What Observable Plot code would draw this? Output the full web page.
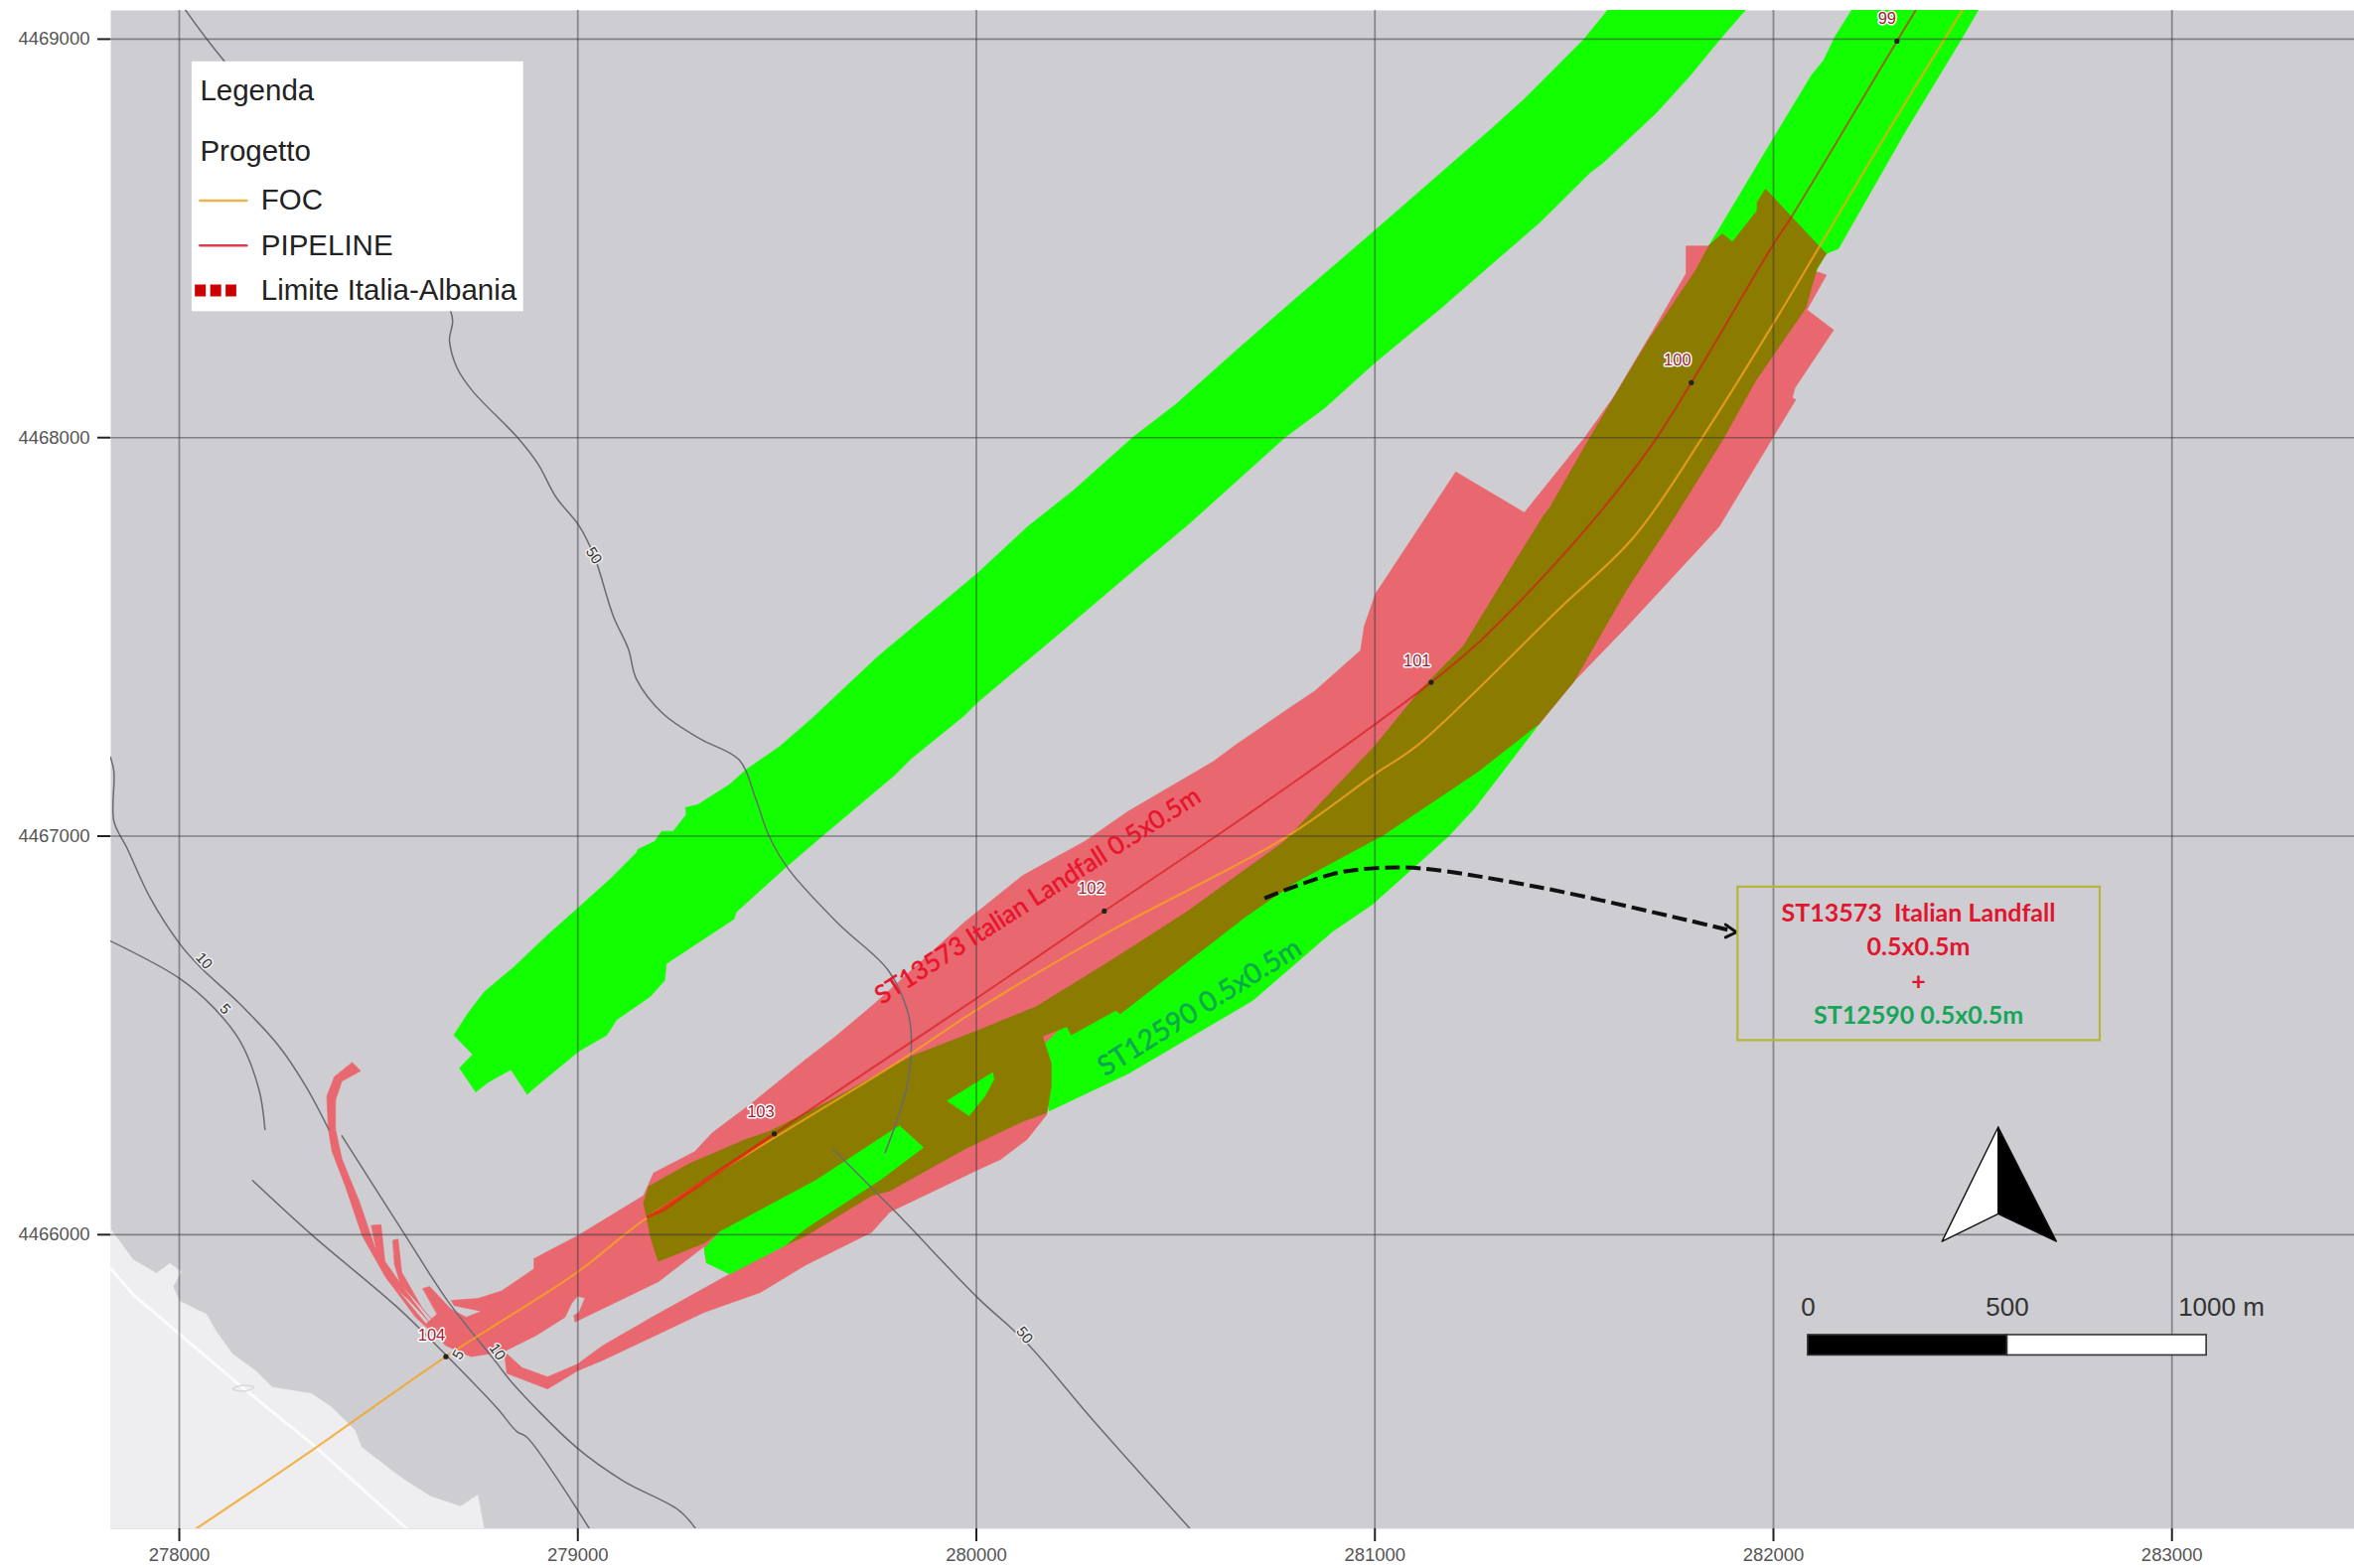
<!DOCTYPE html>
<html>
<head>
<meta charset="utf-8">
<title>ST13573 Italian Landfall</title>
<script src="https://cdn.jsdelivr.net/npm/d3@7"></script>
<script src="https://cdn.jsdelivr.net/npm/@observablehq/plot@0.6"></script>
<style>
html,body{margin:0;padding:0;background:#fff;overflow:hidden}
svg{display:block}
</style>
</head>
<body>
<div id="chart"></div>
<script>
// All coordinates are map metres (easting, northing).
const xTicks = [278000, 279000, 280000, 281000, 282000, 283000];
const yTicks = [4466000, 4467000, 4468000, 4469000];
const xExtent = [277828, 283458];
const yExtent = [4465262, 4469072];

const landArea = [[277827,4466015],[277884,4465937],[277943,4465903],[277976,4465928],[278005,4465907],[277984,4465870],[278001,4465833],[278068,4465800],[278092,4465758],[278133,4465701],[278192,4465658],[278233,4465617],[278332,4465601],[278382,4465567],[278441,4465509],[278457,4465467],[278532,4465409],[278566,4465384],[278631,4465343],[278706,4465318],[278749,4465347],[278765,4465259],[277827,4465259]];
const roadLine = [[277827,4465916],[277884,4465850],[278001,4465750],[278158,4465617],[278332,4465476],[278574,4465259]];
const landMark = [[278134,4465613],[278160,4465607],[278188,4465617],[278160,4465622]];

const corridorNorth = [[278689,4466501],[278724,4466555],[278765,4466609],[278840,4466672],[278923,4466751],[279002,4466821],[279081,4466892],[279147,4466958],[279151,4466967],[279193,4466987],[279210,4467012],[279239,4467012],[279272,4467054],[279270,4467072],[279301,4467079],[279380,4467129],[279421,4467166],[279505,4467224],[279587,4467295],[279671,4467374],[279754,4467452],[279795,4467486],[280003,4467660],[280128,4467776],[280244,4467868],[280393,4468001],[280501,4468084],[280659,4468225],[280792,4468341],[281000,4468520],[281290,4468773],[281373,4468848],[281523,4468998],[281590,4469080],[281936,4469080],[281868,4469002],[281789,4468906],[281706,4468815],[281573,4468690],[281540,4468665],[281415,4468541],[281290,4468433],[281166,4468325],[281000,4468188],[280875,4468075],[280775,4468001],[280535,4467785],[280377,4467652],[280211,4467511],[280003,4467336],[279970,4467303],[279837,4467195],[279795,4467153],[279613,4467000],[279521,4466921],[279397,4466809],[279392,4466792],[279222,4466680],[279218,4466638],[279181,4466597],[279097,4466539],[279073,4466501],[279002,4466460],[278886,4466364],[278873,4466352],[278832,4466414],[278794,4466393],[278773,4466381],[278744,4466358],[278703,4466418],[278736,4466452]];
const corridorMain = [[282197,4469074],[282155,4469007],[282126,4468947],[282096,4468910],[281998,4468748],[281864,4468524],[281839,4468483],[281696,4468193],[281470,4467816],[281169,4467439],[280755,4466969],[280189,4466535],[280166,4466498],[280182,4466310],[280383,4466405],[280694,4466588],[280894,4466761],[280994,4466829],[281184,4466999],[281250,4467070],[281412,4467281],[282133,4468462],[282163,4468474],[282329,4468765],[282470,4468997],[282517,4469078]];
const corridorPatch = [[279807,4466273],[279867,4466219],[279762,4466140],[279572,4466016],[279522,4465974],[279381,4465901],[279323,4465929],[279317,4465965],[279356,4466007],[279597,4466136]];
const corridorIsland = [[279927,4466336],[280041,4466407],[280044,4466389],[280021,4466347],[279982,4466299]];

const landfallMain = [[278683,4465835],[278750,4465840],[278809,4465859],[278890,4465914],[278890,4465940],[278999,4465997],[279165,4466098],[279190,4466155],[279293,4466208],[279338,4466256],[279438,4466331],[279571,4466439],[279646,4466497],[279745,4466580],[279970,4466784],[280116,4466901],[280272,4466987],[280382,4467063],[280594,4467187],[280651,4467229],[280792,4467326],[280849,4467364],[280964,4467466],[280973,4467526],[281002,4467609],[281022,4467639],[281203,4467914],[281375,4467812],[281527,4468001],[281598,4468100],[281697,4468267],[281781,4468412],[281781,4468481],[281836,4468481],[282113,4468415],[282133,4468408],[282084,4468321],[282151,4468270],[282054,4468125],[282047,4468100],[282056,4468095],[281999,4468001],[281864,4467777],[281794,4467701],[281632,4467526],[281498,4467387],[281412,4467281],[281169,4467138],[280830,4466931],[280566,4466761],[280265,4466573],[280152,4466460],[280177,4466302],[280127,4466239],[280061,4466189],[280004,4466163],[279783,4466057],[279737,4466006],[279572,4465924],[279323,4465929],[279317,4465970],[279202,4465882],[278993,4465781],[278990,4465797],[279003,4465805],[279018,4465841],[278999,4465846],[278984,4465827],[278968,4465793],[278897,4465748],[278815,4465707],[278732,4465694],[278668,4465722],[278619,4465776],[278668,4465820],[278720,4465793],[278758,4465808],[278690,4465822]];
const landfallTail = [[279549,4466027],[279572,4465924],[279458,4465855],[279317,4465805],[279190,4465745],[279063,4465685],[278999,4465658],[278924,4465613],[278822,4465652],[278815,4465707],[278860,4465666],[278924,4465643],[278999,4465675],[279063,4465722],[279190,4465795],[279381,4465901]];
const strandOne = [[278434,4466432],[278455,4466411],[278408,4466385],[278392,4466338],[278392,4466264],[278408,4466190],[278453,4466080],[278490,4465970],[278542,4465869],[278619,4465776],[278645,4465744],[278592,4465794],[278516,4465896],[278459,4465997],[278415,4466126],[278383,4466209],[278374,4466264],[278370,4466347],[278389,4466396]];
const strandTwo = [[278482,4466023],[278506,4466025],[278516,4465933],[278568,4465859],[278626,4465782],[278577,4465835],[278524,4465884],[278494,4465963]];
const strandThree = [[278536,4465986],[278549,4465989],[278558,4465906],[278611,4465813],[278645,4465775],[278592,4465835],[278555,4465876],[278540,4465925]];
const strandFour = [[278611,4465865],[278628,4465870],[278682,4465813],[278728,4465763],[278653,4465790]];

const overlapArea = [[279165,4466080],[279178,4466121],[279279,4466178],[279419,4466238],[279483,4466260],[279636,4466338],[279762,4466407],[279838,4466448],[280005,4466513],[280150,4466572],[280338,4466688],[280528,4466810],[280773,4466987],[281002,4467229],[281116,4467369],[281222,4467477],[281288,4467585],[281365,4467711],[281421,4467801],[281440,4467826],[281540,4468001],[281614,4468125],[281685,4468242],[281805,4468420],[281839,4468483],[281872,4468512],[281897,4468491],[281959,4468570],[281959,4468590],[281980,4468624],[282113,4468482],[282133,4468462],[282109,4468424],[282081,4468325],[281955,4468142],[281872,4467993],[281747,4467793],[281632,4467619],[281498,4467386],[281412,4467282],[281259,4467162],[281022,4467003],[280792,4466879],[280672,4466795],[280361,4466554],[280350,4466563],[280238,4466501],[280227,4466522],[280166,4466498],[280188,4466430],[280188,4466372],[280177,4466306],[280116,4466284],[279971,4466215],[279783,4466110],[279737,4466098],[279572,4465997],[279522,4465974],[279356,4466007],[279317,4465979],[279202,4465933],[279184,4465988]];

const pipelineRoute = [[279176,4466044],[279493,4466253],[279671,4466373],[279999,4466592],[280321,4466812],[280594,4466995],[280792,4467132],[281002,4467282],[281141,4467386],[281269,4467494],[281527,4467768],[281698,4467986],[281794,4468138],[281998,4468482],[282047,4468557],[282310,4468995],[282358,4469074]];
const pipelineHead = [[279176,4466044],[279215,4466062],[279493,4466253]];
const focRoute = [[278042,4465262],[278300,4465436],[278669,4465694],[278999,4465906],[279176,4466044],[279813,4466439],[279999,4466563],[280338,4466763],[280773,4466995],[281002,4467157],[281108,4467229],[281461,4467569],[281651,4467752],[281822,4468001],[281998,4468283],[282117,4468482],[282295,4468781],[282475,4469074]];

const depth50North = [[278012,4469078],[278112,4468946],[278682,4468314],[278678,4468242],[278697,4468175],[278735,4468118],[278848,4468001],[278900,4467934],[278945,4467851],[279003,4467779],[279041,4467703],[279089,4467552],[279127,4467469],[279147,4467394],[279214,4467307],[279305,4467245],[279405,4467191],[279446,4467095],[279480,4467000],[279529,4466917],[279654,4466780],[279779,4466663],[279829,4466555],[279837,4466481],[279824,4466364],[279771,4466206]];
const depth50South = [[279641,4466214],[279801,4466053],[280004,4465841],[280125,4465730],[280294,4465533],[280540,4465258]];
const depth10West = [[277827,4467199],[277836,4467162],[277836,4467037],[277868,4466972],[277926,4466847],[278001,4466730],[278051,4466673],[278151,4466580],[278250,4466473],[278317,4466373],[278375,4466264]];
const depth10East = [[278408,4466248],[278566,4466000],[278674,4465833],[278798,4465676],[278833,4465631],[278999,4465464],[279114,4465382],[279254,4465308],[279298,4465259]];
const depth5West = [[277827,4466737],[278001,4466643],[278083,4466573],[278151,4466488],[278200,4466364],[278215,4466264]];
const depth5East = [[278184,4466136],[278332,4466000],[278549,4465816],[278666,4465701],[278798,4465564],[278847,4465506],[278872,4465492],[279031,4465259]];

const depthLabels = ["50","50","10","5","10","5"];
const depthLabelX = [279040,280121,278062,278115,278798,278700];
const depthLabelY = [4467704,4465748,4466687,4466566,4465706,4465699];
const depthLabelAngle = [58,52,48,48,55,-60];

const kpNames = ["99","100","101","102","103","104"];
const kpDotX = [282310,281794,281141,280321,279493,278669];
const kpDotY = [4468995,4468138,4467386,4466812,4466253,4465694];
const kpLabelX = [282285,281759,281106,280289,279459,278633];
const kpLabelY = [4469052,4468195,4467440,4466869,4466309,4465747];

const calloutCurve = [[280723,4466844],[280894,4466905],[281006,4466920],[281116,4466919],[281416,4466871],[281789,4466788],[281885,4466765]];
const calloutHead = [[281880,4466778],[281907,4466759],[281880,4466746]];
const calloutBox = {x1:281911,x2:282820,y1:4466487,y2:4466872};
const calloutLines = ["ST13573  Italian Landfall","0.5x0.5m","+","ST12590 0.5x0.5m"];
const calloutColors = ["#e0162e","#e0162e","#e0162e","#16a659"];
const calloutY = [4466805,4466722,4466634,4466550];
const calloutX = 282364;

const northLeft = [[282564,4466270],[282423,4465983],[282564,4466052]];
const northRight = [[282564,4466270],[282710,4465983],[282564,4466052]];
const scaleSegments = [{x1:282087,x2:282587,fill:"#000"},{x1:282587,x2:283087,fill:"#fff"}];
const scaleY = [4465697,4465748];
const scaleLabels = ["0","500","1000 m"];
const scaleLabelX = [282087,282587,283124];
const scaleLabelY = 4465818;

const legendBox = {x1:278032,x2:278864,y1:4468316,y2:4468943};
const legendHeads = ["Legenda","Progetto"];
const legendHeadY = [4468869,4468719];
const legendNames = ["FOC","PIPELINE","Limite Italia-Albania"];
const legendRowY = [4468595,4468482,4468369];
const legendHeadX = 278052, legendNameX = 278205;

const colors = {sea:"#cdcdd2", land:"#eeeef0", road:"#fbfbfb", green:"#12ff00", pink:"#e9686f", olive:"#8b7b00", grid:"#333338", contour:"#6a6a70", pipeline:"#d8141c", foc:"#f5a322"};
const font = "'Liberation Sans', Arial, sans-serif";
const calibri = "Lato, 'Open Sans', sans-serif";

const X = d => d[0], Y = d => d[1];
const poly = (pts, fill) => Plot.line(pts, {x:X, y:Y, fill, stroke:fill, strokeWidth:0.6, curve:"linear-closed", clip:true});
const path = (pts, o) => Plot.line(pts, {x:X, y:Y, clip:true, ...o});
const contour = pts => path(pts, {stroke:colors.contour, strokeWidth:1.5, curve:"catmull-rom"});

const chart = Plot.plot({
  width:2370, height:1579,
  marginLeft:111, marginRight:0, marginTop:10, marginBottom:40,
  x:{domain:xExtent, axis:null},
  y:{domain:yExtent, axis:null},
  style:{fontFamily:font, background:"#fff"},
  marks:[
    Plot.frame({fill:colors.sea, stroke:"none"}),
    poly(landArea, colors.land),
    path(roadLine, {stroke:colors.road, strokeWidth:3}),
    path(landMark, {stroke:"#d8d8da", strokeWidth:1.5, curve:"catmull-rom-closed"}),
    poly(corridorNorth, colors.green),
    poly(corridorMain, colors.green),
    poly(landfallMain, colors.pink),
    poly(landfallTail, colors.pink),
    poly(strandOne, colors.pink),
    poly(strandTwo, colors.pink),
    poly(strandThree, colors.pink),
    poly(strandFour, colors.pink),
    poly(overlapArea, colors.olive),
    poly(corridorPatch, colors.green),
    poly(corridorIsland, colors.green),
    contour(depth50North),
    contour(depth50South),
    contour(depth10West),
    contour(depth10East),
    contour(depth5West),
    contour(depth5East),
    path(focRoute, {stroke:colors.foc, strokeWidth:2.2, strokeOpacity:0.8, curve:"catmull-rom"}),
    path(pipelineRoute, {stroke:colors.pipeline, strokeWidth:2, strokeOpacity:0.65, curve:"catmull-rom"}),
    path(pipelineHead, {stroke:"#e02a10", strokeWidth:3, strokeOpacity:0.8}),
    Plot.gridX(xTicks, {stroke:colors.grid, strokeOpacity:0.45, strokeWidth:1.8}),
    Plot.gridY(yTicks, {stroke:colors.grid, strokeOpacity:0.5, strokeWidth:1.6}),
    Plot.axisX(xTicks, {anchor:"bottom", label:null, tickSize:13, tickPadding:6, tickFormat:String, fontSize:18.5, stroke:"#222", strokeWidth:2, fill:"#555"}),
    Plot.axisY(yTicks, {anchor:"left", label:null, tickSize:13, tickPadding:8, tickFormat:String, fontSize:18.5, stroke:"#222", strokeWidth:2, fill:"#555"}),
    Plot.text(depthLabels, {x:(d,i)=>depthLabelX[i], y:(d,i)=>depthLabelY[i], text:d=>d, rotate:(d,i)=>depthLabelAngle[i], fontSize:15, fill:"#333", stroke:"#eeeef0", strokeWidth:3}),
    Plot.dot(kpNames, {x:(d,i)=>kpDotX[i], y:(d,i)=>kpDotY[i], r:2.6, fill:"#222"}),
    Plot.text(kpNames, {x:(d,i)=>kpLabelX[i], y:(d,i)=>kpLabelY[i], text:d=>d, fontSize:16.5, fill:"#a01c34", stroke:"#fff", strokeWidth:3}),
    Plot.text(["ST13573 Italian Landfall 0.5x0.5m"], {x:[280154], y:[4466850], text:d=>d, rotate:-32.5, fontSize:25.5, fontFamily:calibri, fill:"#e8142c", stroke:"#e8142c", strokeWidth:0.5}),
    Plot.text(["ST12590 0.5x0.5m"], {x:[280560], y:[4466570], text:d=>d, rotate:-32, fontSize:28, fontFamily:calibri, fill:"#0aa84e", stroke:"#0aa84e", strokeWidth:0.5}),
    path(calloutCurve, {stroke:"#111", strokeWidth:4, strokeDasharray:"15 6", strokeLinecap:"butt", curve:"catmull-rom"}),
    path(calloutHead, {stroke:"#111", strokeWidth:3, fill:"none"}),
    Plot.rect([calloutBox], {x1:"x1", x2:"x2", y1:"y1", y2:"y2", fill:"none", stroke:"#b4b53c", strokeWidth:2.2}),
    Plot.text(calloutLines, {x:calloutX, y:(d,i)=>calloutY[i], text:d=>d, fontFamily:calibri, fontWeight:700, fontSize:25, fill:(d,i)=>calloutColors[i]}),
    Plot.line(northLeft, {x:X, y:Y, fill:"#fff", stroke:"#111", strokeWidth:1.4, curve:"linear-closed"}),
    Plot.line(northRight, {x:X, y:Y, fill:"#000", stroke:"#111", strokeWidth:1.4, curve:"linear-closed"}),
    Plot.rect(scaleSegments, {x1:"x1", x2:"x2", y1:scaleY[0], y2:scaleY[1], fill:"fill", stroke:"#333", strokeWidth:1.6}),
    Plot.text(scaleLabels, {x:(d,i)=>scaleLabelX[i], y:scaleLabelY, text:d=>d, fontSize:26, fill:"#333"}),
    Plot.rect([legendBox], {x1:"x1", x2:"x2", y1:"y1", y2:"y2", fill:"#fff"}),
    Plot.text(legendHeads, {x:legendHeadX, y:(d,i)=>legendHeadY[i], text:d=>d, textAnchor:"start", fontSize:29.5, fill:"#222"}),
    Plot.text(legendNames, {x:legendNameX, y:(d,i)=>legendRowY[i], text:d=>d, textAnchor:"start", fontSize:29.5, fill:"#222"}),
    path([[278052,legendRowY[0]],[278169,legendRowY[0]]], {stroke:"#e8b450", strokeWidth:2.5}),
    path([[278052,legendRowY[1]],[278169,legendRowY[1]]], {stroke:"#d8404f", strokeWidth:2.5}),
    path([[278039,legendRowY[2]],[278143,legendRowY[2]]], {stroke:"#cc0000", strokeWidth:12, strokeDasharray:"11 4.5", strokeLinecap:"butt"})
  ]
});
document.getElementById("chart").append(chart);
</script>
</body>
</html>
